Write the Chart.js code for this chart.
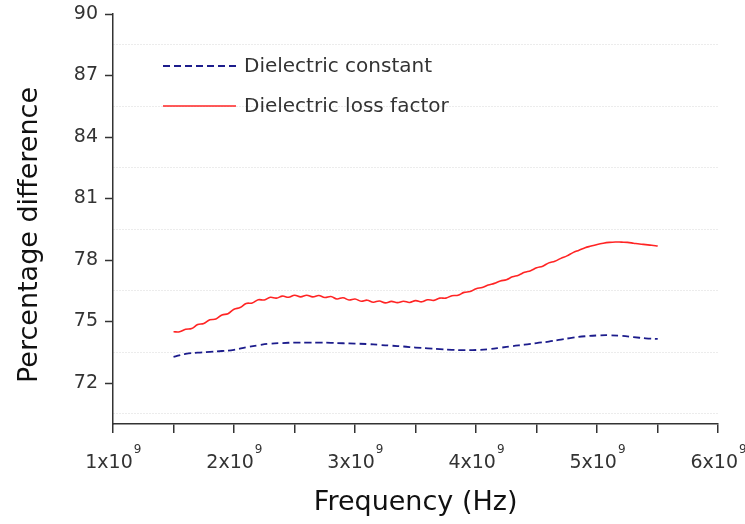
<!DOCTYPE html>
<html>
<head>
<meta charset="utf-8">
<script src="https://cdn.jsdelivr.net/npm/chart.js@4.4.1/dist/chart.umd.min.js"></script>
<style>
  html, body { margin: 0; padding: 0; background: #fff; }
  #wrap { width: 745px; height: 524px; }
</style>
</head>
<body>
<div id="wrap"><canvas id="myChart" width="745" height="524"></canvas></div>
<script>
// frequency in units of 10^9 Hz
const freqLoss = [
    1.50, 1.55, 1.60, 1.65, 1.70, 1.75, 1.80, 1.85, 1.90, 1.95,
    2.00, 2.05, 2.10, 2.15, 2.20, 2.25, 2.30, 2.35, 2.40, 2.45,
    2.50, 2.55, 2.60, 2.65, 2.70, 2.75, 2.80, 2.85, 2.90, 2.95,
    3.00, 3.05, 3.10, 3.15, 3.20, 3.25, 3.30, 3.35, 3.40, 3.45,
    3.50, 3.55, 3.60, 3.65, 3.70, 3.75, 3.80, 3.85, 3.90, 3.95,
    4.00, 4.05, 4.10, 4.15, 4.20, 4.25, 4.30, 4.35, 4.40, 4.45,
    4.50, 4.55, 4.60, 4.65, 4.70, 4.75, 4.80, 4.85, 4.90, 4.95,
    5.00, 5.05, 5.10, 5.15, 5.20, 5.25, 5.30, 5.35, 5.40, 5.45,
    5.50
];
const lossFactor = [
    74.50, 74.50, 74.62, 74.66, 74.85, 74.90, 75.08, 75.12, 75.32, 75.38,
    75.60, 75.68, 75.88, 75.90, 76.06, 76.05, 76.18, 76.14, 76.24, 76.18,
    76.28, 76.20, 76.28, 76.20, 76.27, 76.17, 76.22, 76.10, 76.16, 76.05,
    76.10, 75.99, 76.04, 75.94, 76.00, 75.91, 75.98, 75.92, 75.99, 75.93,
    76.02, 75.96, 76.06, 76.03, 76.14, 76.14, 76.26, 76.28, 76.42, 76.46,
    76.60, 76.66, 76.78, 76.86, 76.98, 77.04, 77.18, 77.26, 77.40, 77.48,
    77.62, 77.70, 77.86, 77.94, 78.08, 78.20, 78.36, 78.48, 78.60, 78.68,
    78.76, 78.82, 78.86, 78.88, 78.87, 78.86, 78.82, 78.78, 78.75, 78.72,
    78.68
];
const freqConst = [
    1.5, 1.6, 1.7, 1.8, 1.9, 2.0, 2.1, 2.2, 2.3, 2.4,
    2.5, 2.6, 2.7, 2.8, 2.9, 3.0, 3.1, 3.2, 3.3, 3.4,
    3.5, 3.6, 3.7, 3.8, 3.9, 4.0, 4.1, 4.2, 4.3, 4.4,
    4.5, 4.6, 4.7, 4.8, 4.9, 5.0, 5.1, 5.2, 5.3, 5.4,
    5.5
];
const dielConst = [
    73.28, 73.42, 73.48, 73.52, 73.56, 73.62, 73.74, 73.84, 73.92, 73.95,
    73.97, 73.97, 73.97, 73.96, 73.94, 73.92, 73.90, 73.86, 73.82, 73.78,
    73.73, 73.69, 73.65, 73.62, 73.60, 73.61, 73.65, 73.72, 73.80, 73.87,
    73.95, 74.02, 74.12, 74.21, 74.28, 74.32, 74.33, 74.30, 74.24, 74.18,
    74.15
];
const seriesNames = ['Dielectric constant', 'Dielectric loss factor'];
const yLabelTicks = [72, 75, 78, 81, 84, 87, 90];
const yGridTicks = [70.5, 73.5, 76.5, 79.5, 82.5, 85.5, 88.5];
const xLabelTicks = [1, 2, 3, 4, 5, 6];
const yTitle = 'Percentage difference';

const FONT = "'DejaVu Sans', sans-serif";
const INK = '#333';

// superscript "9" of x10^9, the y title (sits a bit low in the original) and the legend
const extras = {
    id: 'extras',
    afterDraw(chart) {
        const ctx = chart.ctx;
        const xs = chart.scales.x;
        const area = chart.chartArea;
        ctx.save();
        ctx.fillStyle = INK;
        ctx.textBaseline = 'middle';
        ctx.textAlign = 'left';
        xs.ticks.forEach((t) => {
            if (!t.label) return;
            ctx.font = '19px ' + FONT;
            const w = ctx.measureText(t.label).width;
            const x = xs.getPixelForValue(t.value) + xs.options.ticks.labelOffset;
            ctx.font = '12px ' + FONT;
            ctx.fillText('9', x + w / 2 + 1, xs.top + 26);
        });

        ctx.save();
        ctx.fillStyle = '#111';
        ctx.font = '27px ' + FONT;
        ctx.textAlign = 'center';
        ctx.translate(30, (area.top + area.bottom) / 2 + 16);
        ctx.rotate(-Math.PI / 2);
        ctx.fillText(yTitle, 0, 0);
        ctx.restore();

        chart.data.datasets.forEach((ds, i) => {
            const y = area.top + 52 + i * 40;
            const x0 = area.left + 50;
            ctx.strokeStyle = ds.borderColor;
            ctx.lineWidth = ds.borderWidth;
            ctx.setLineDash(ds.borderDash || []);
            ctx.beginPath();
            ctx.moveTo(x0, y);
            ctx.lineTo(x0 + 73, y);
            ctx.stroke();
            ctx.setLineDash([]);
            ctx.font = '20px ' + FONT;
            ctx.fillText(ds.label, x0 + 81, y + 1);
        });
        ctx.restore();
    }
};

function createChart() {
    const ctx = document.getElementById('myChart').getContext('2d');
    const data = {
        datasets: [{
            label: seriesNames[0],
            data: freqConst.map((f, i) => ({x: f, y: dielConst[i]})),
            borderColor: '#1c1c8c',
            borderWidth: 1.8,
            borderDash: [7, 4],
            pointRadius: 0,
            tension: 0.4
        }, {
            label: seriesNames[1],
            data: freqLoss.map((f, i) => ({x: f, y: lossFactor[i]})),
            borderColor: '#ff2424',
            borderWidth: 1.6,
            pointRadius: 0,
            tension: 0.4
        }]
    };

    new Chart(ctx, {
        type: 'line',
        data: data,
        options: {
            responsive: false,
            animation: false,
            devicePixelRatio: 1,
            layout: {
                padding: {top: 14, right: 26, left: 0, bottom: 0}
            },
            plugins: {
                legend: {display: false},
                tooltip: {enabled: false}
            },
            scales: {
                x: {
                    type: 'linear',
                    min: 1,
                    max: 6,
                    afterFit: (scale) => { scale.height = 100; },
                    ticks: {
                        stepSize: 0.5,
                        autoSkip: false,
                        maxRotation: 0,
                        labelOffset: -4,
                        padding: 3,
                        color: INK,
                        font: {family: FONT, size: 19, lineHeight: '54px'},
                        callback: (v) => xLabelTicks.includes(v) ? v + 'x10' : ''
                    },
                    grid: {
                        drawOnChartArea: false,
                        tickLength: 9,
                        tickColor: INK,
                        lineWidth: 1.5
                    },
                    border: {color: INK, width: 1.5},
                    title: {
                        display: true,
                        text: 'Frequency (Hz)',
                        color: '#111',
                        font: {family: FONT, size: 27},
                        padding: {top: 0, bottom: 5}
                    }
                },
                y: {
                    min: 70,
                    max: 90,
                    afterFit: (scale) => { scale.width = 113; },
                    afterBuildTicks: (scale) => {
                        scale.ticks = yGridTicks.concat(yLabelTicks)
                            .sort((a, b) => a - b)
                            .map((v) => ({value: v}));
                    },
                    ticks: {
                        autoSkip: false,
                        padding: 7,
                        color: INK,
                        font: {family: FONT, size: 19, lineHeight: 0.7},
                        callback: (v) => yLabelTicks.includes(v) ? String(v) : ''
                    },
                    grid: {
                        tickLength: 8,
                        lineWidth: 1,
                        color: (c) => yGridTicks.includes(c.tick.value) ? '#d8d8d8' : 'rgba(0,0,0,0)',
                        tickColor: (c) => yLabelTicks.includes(c.tick.value) ? INK : 'rgba(0,0,0,0)',
                        tickWidth: 1.5
                    },
                    border: {color: INK, width: 1.5, dash: [1, 2]}
                }
            }
        },
        plugins: [extras]
    });
}

createChart();
</script>
</body>
</html>
